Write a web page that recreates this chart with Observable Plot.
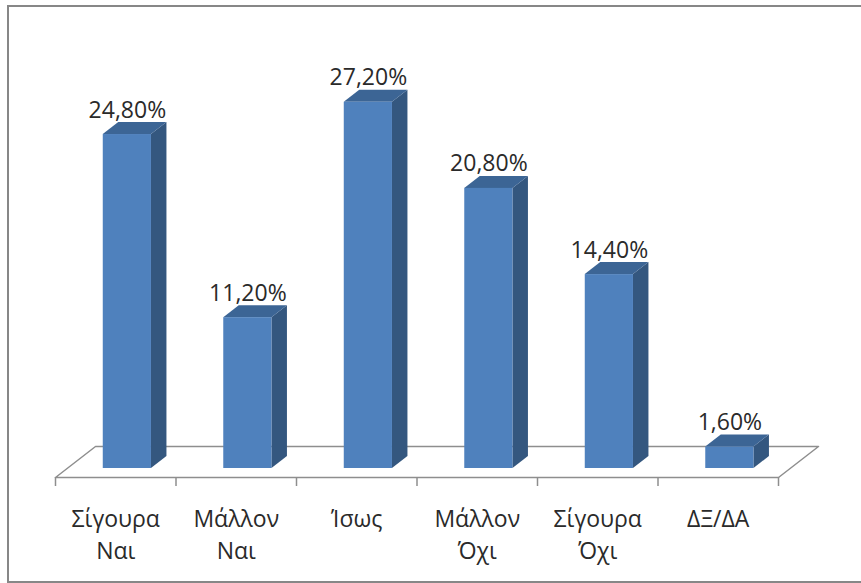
<!DOCTYPE html>
<html><head><meta charset="utf-8">
<script src="https://cdn.jsdelivr.net/npm/d3@7"></script>
<script src="https://cdn.jsdelivr.net/npm/@observablehq/plot@0.6"></script>
<style>
html,body{margin:0;padding:0;background:#fff;}
#wrap{position:relative;width:861px;height:583px;}
#chart{position:absolute;left:0;top:0;}
.edge{position:absolute;background:#878787;}
</style></head><body>
<div id="wrap"><div id="chart"></div>
<div class="edge" style="left:7px;top:5px;width:854px;height:2px"></div>
<div class="edge" style="left:7px;top:5px;width:2px;height:578px"></div>
<div class="edge" style="left:7px;top:581px;width:854px;height:2px"></div>
</div>
<script>
// ---- data ----
const categories = ["Σίγουρα\nΝαι", "Μάλλον\nΝαι", "Ίσως", "Μάλλον\nΌχι", "Σίγουρα\nΌχι", "ΔΞ/ΔΑ"];
const values = [24.8, 11.2, 27.2, 20.8, 14.4, 1.6];
const fmt = v => v.toFixed(2).replace(".", ",") + "%";

// ---- layout ----
const W = 861, H = 583, mL = 55, mR = 83, mT = 73, mB = 106, yMax = 30;
const pxX = (W - mL - mR) / categories.length;
const pxY = (H - mT - mB) / yMax;
const kx = 40 / pxX, ky = 31 / pxY;
const dF = 9 / 31, dB = 21 / 31;
const bL = 0.3, bR = 0.7;

const rows = values.map((v, i) => ({i, v, cat: categories[i], label: fmt(v)}));
const P = (x, v, d) => ({x: x + d * kx, y: v + d * ky});
const n = categories.length;
const floorPts = [P(0,0,0), P(n,0,0), P(n,0,1), P(0,0,1), P(0,0,0)];
const sideFaces = rows.flatMap(r => [dF, dB].map(d => ({i: r.i, x: r.i + bR + d * kx, y1: d * ky, y2: r.v + d * ky})));
const topFaces = rows.flatMap(r => [dF, dB].map(d => ({i: r.i, y: r.v + d * ky, x1: r.i + bL + d * kx, x2: r.i + bR + d * kx})));
const tickXs = d3.range(n + 1);

const chart = Plot.plot({
  width: W, height: H,
  marginLeft: mL, marginRight: mR, marginTop: mT, marginBottom: mB,
  style: {fontFamily: "'Open Sans', sans-serif", background: "transparent", color: "#2a2a2a"},
  x: {domain: [0, n], axis: null},
  y: {domain: [0, yMax], axis: null},
  marks: [
    Plot.line(floorPts, {x: "x", y: "y", fill: "white", stroke: "#8e8e8e", strokeWidth: 1.5}),
    Plot.ruleX(tickXs, {x: d => d, y1: 0, y2: -9 / pxY, stroke: "#8e8e8e", strokeWidth: 1.5}),
    Plot.area(sideFaces, {x1: "x", y1: "y1", y2: "y2", z: "i", fill: "#34577f"}),
    Plot.area(topFaces, {x1: "x1", x2: "x2", y1: "y", z: "i", fill: "#3c6595"}),
    Plot.rect(rows, {x1: d => d.i + bL + dF * kx, x2: d => d.i + bR + dF * kx, y1: dF * ky, y2: d => d.v + dF * ky, fill: "#4f81bd"}),
    Plot.text(rows, {x: d => d.i + (bL + bR) / 2 + dF * kx, y: d => d.v + dF * ky, text: "label", dy: -17, lineAnchor: "bottom", fontSize: 23, fill: "#2a2a2a"}),
    Plot.text(rows, {x: d => d.i + 0.5, y: 0, text: "cat", dy: 27, lineAnchor: "top", lineHeight: 1.39, fontSize: 23, fill: "#2a2a2a"})
  ]
});
document.getElementById("chart").appendChild(chart);
</script>
</body></html>
